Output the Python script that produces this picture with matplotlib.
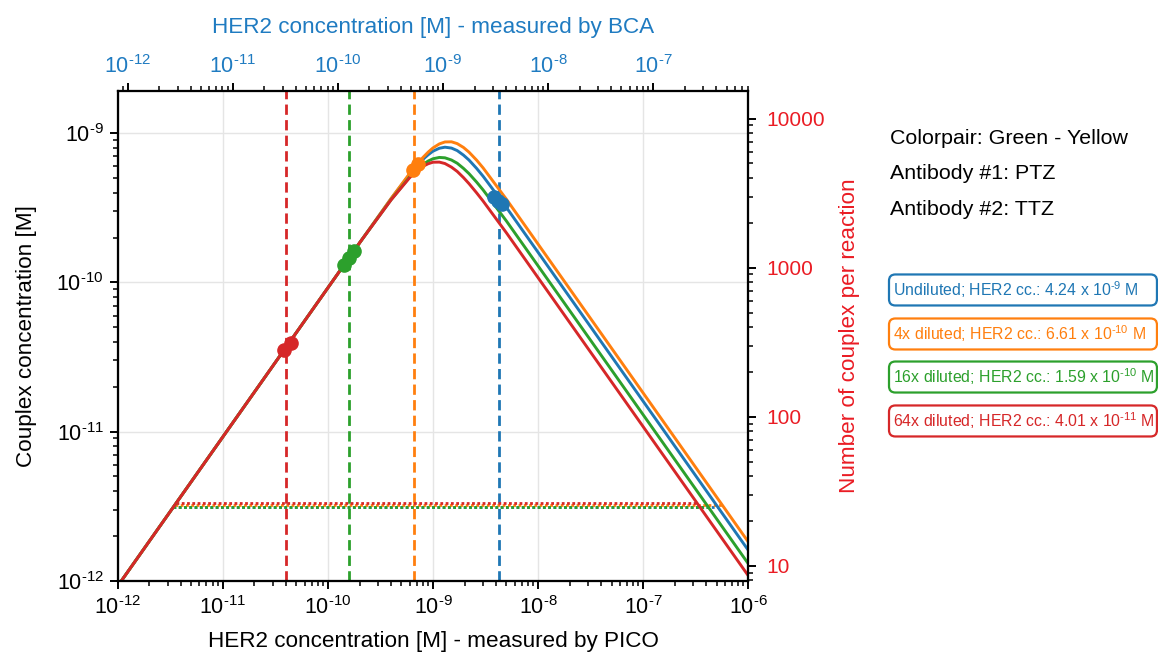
import numpy as np
import matplotlib
matplotlib.use("Agg")
import matplotlib.pyplot as plt
from matplotlib.ticker import LogLocator, NullFormatter, FuncFormatter, FixedLocator
from matplotlib.patches import FancyBboxPatch

plt.rcParams['font.family'] = ['Liberation Sans', 'DejaVu Sans']
plt.rcParams['mathtext.fontset'] = 'custom'
plt.rcParams['mathtext.rm'] = 'Liberation Sans'
plt.rcParams['mathtext.it'] = 'Liberation Sans:italic'
plt.rcParams['mathtext.bf'] = 'Liberation Sans:bold'
plt.rcParams['mathtext.default'] = 'regular'

# --- data ---
series_names = ["Undiluted", "4x diluted", "16x diluted", "64x diluted"]
her2_pico = [4.24e-9, 6.61e-10, 1.59e-10, 4.01e-11]
her2_labels = ["4.24 x 10$^{\u20109}$", "6.61 x 10$^{\u201010}$",
               "1.59 x 10$^{\u201010}$", "4.01 x 10$^{\u201011}$"]

# model curves: couplex concentration vs HER2 concentration
x_model = [1e-12, 2e-10, 4e-10, 6e-10, 7e-10, 8e-10, 9e-10, 1e-9, 1.15e-9, 1.3e-9,
           1.5e-9, 1.7e-9, 1.95e-9, 2.2e-9, 2.6e-9, 3e-9, 5e-9, 1e-6]
y_undiluted = [0.92e-12, 1.84e-10, 3.65e-10, 5.31e-10, 6.04e-10, 6.67e-10, 7.18e-10, 7.59e-10, 7.94e-10,
               8.07e-10, 7.96e-10, 7.66e-10, 7.14e-10, 6.62e-10, 5.82e-10, 5.15e-10, 3.18e-10, 1.60e-12]
y_4x = [0.92e-12, 1.84e-10, 3.66e-10, 5.38e-10, 6.17e-10, 6.87e-10, 7.48e-10, 7.98e-10, 8.49e-10,
        8.75e-10, 8.77e-10, 8.53e-10, 8.04e-10, 7.48e-10, 6.61e-10, 5.86e-10, 3.61e-10, 1.82e-12]
y_16x = [0.92e-12, 1.84e-10, 3.59e-10, 5.09e-10, 5.69e-10, 6.17e-10, 6.52e-10, 6.75e-10, 6.89e-10,
         6.85e-10, 6.62e-10, 6.30e-10, 5.82e-10, 5.37e-10, 4.71e-10, 4.17e-10, 2.58e-10, 1.30e-12]
y_64x = [0.92e-12, 1.84e-10, 3.58e-10, 5.04e-10, 5.58e-10, 6.00e-10, 6.25e-10, 6.40e-10, 6.41e-10,
         6.27e-10, 5.93e-10, 5.55e-10, 5.05e-10, 4.60e-10, 3.99e-10, 3.51e-10, 2.15e-10, 1.08e-12]

# measured replicates
pts_x_undiluted = [3.81e-9, 4.16e-9, 4.54e-9]
pts_y_undiluted = [3.74e-10, 3.51e-10, 3.35e-10]
pts_x_4x = [6.45e-10, 7.2e-10]
pts_y_4x = [5.7e-10, 6.26e-10]
pts_x_16x = [1.42e-10, 1.585e-10, 1.77e-10]
pts_y_16x = [1.315e-10, 1.468e-10, 1.637e-10]
pts_x_64x = [3.81e-11, 4.44e-11]
pts_y_64x = [3.5e-11, 3.93e-11]

# detection threshold (dotted)
thr_y = [3.12e-12, 3.22e-12, 3.12e-12, 3.32e-12]
thr_x_start = [3.39e-12, 3.5e-12, 3.39e-12, 3.6e-12]
thr_x_end = [5.13e-7, 5.65e-7, 4.17e-7, 3.25e-7]

# tick values
x_ticks = [1e-12, 1e-11, 1e-10, 1e-9, 1e-8, 1e-7, 1e-6]
top_ticks = [1e-12, 1e-11, 1e-10, 1e-9, 1e-8, 1e-7]
y_ticks = [1e-12, 1e-11, 1e-10, 1e-9]
right_ticks = [10, 100, 1000, 10000]

couplex_per_molar = 7.96e12   # right axis conversion
bca_per_pico = 0.805          # top axis conversion

colors = ['#1f77b4', '#ff7f0e', '#2ca02c', '#d62728']
right_col = '#ea1c24'
top_col = '#1f7bc1'

curves = [y_undiluted, y_4x, y_16x, y_64x]
pts_x = [pts_x_undiluted, pts_x_4x, pts_x_16x, pts_x_64x]
pts_y = [pts_y_undiluted, pts_y_4x, pts_y_16x, pts_y_64x]


def pow10_label(v, pos):
    e = int(round(np.log10(v)))
    if e < 0:
        return '10$^{\u2010%d}$' % (-e)
    return '10$^{%d}$' % e


fig = plt.figure(figsize=(11.58, 6.55), dpi=100)
ax = fig.add_axes([0.1016, 0.1134, 0.5446, 0.7481])

ylim = (1e-12, 1.93e-9)
xlim = (1e-12, 1e-6)

for i in range(4):
    ax.plot(x_model, curves[i], color=colors[i], lw=2.1, zorder=3)
for i in range(4):
    ax.plot(pts_x[i], pts_y[i], 'o', ms=9.5, color=colors[i], zorder=4)
for i in range(4):
    ax.axvline(her2_pico[i], color=colors[i], lw=2, dashes=(3.7, 1.9), zorder=2)
for i in range(4):
    ax.plot([thr_x_start[i], thr_x_end[i]], [thr_y[i], thr_y[i]], color=colors[i],
            lw=2, dashes=(1, 0.9), zorder=2)

ax.set_xscale('log')
ax.set_yscale('log')
ax.set_xlim(*xlim)
ax.set_ylim(*ylim)
ax.grid(True, which='major', color='#e5e5e5', lw=1)
ax.set_axisbelow(True)


def style_axis(a):
    for s in a.spines.values():
        s.set_linewidth(1.5)
    a.tick_params(which='major', direction='out', length=6, width=1.4, labelsize=15.5)
    a.tick_params(which='minor', direction='out', length=3.5, width=1.1)


minor_loc = lambda: LogLocator(base=10, subs=np.arange(2, 10), numticks=100)

style_axis(ax)
ax.xaxis.set_major_locator(FixedLocator(x_ticks))
ax.xaxis.set_minor_locator(minor_loc())
ax.yaxis.set_major_locator(FixedLocator(y_ticks))
ax.yaxis.set_minor_locator(minor_loc())
ax.xaxis.set_major_formatter(FuncFormatter(pow10_label))
ax.yaxis.set_major_formatter(FuncFormatter(pow10_label))
ax.xaxis.set_minor_formatter(NullFormatter())
ax.yaxis.set_minor_formatter(NullFormatter())
ax.tick_params(axis='x', pad=5)
ax.tick_params(axis='y', pad=4)
ax.set_xlabel('HER2 concentration [M] - measured by PICO', fontsize=16.2, labelpad=9)
ax.set_ylabel('Couplex concentration [M]', fontsize=16.2, labelpad=14)

# right axis: number of couplex per reaction
ax2 = ax.twinx()
ax2.set_yscale('log')
ax2.set_ylim(ylim[0] * couplex_per_molar, ylim[1] * couplex_per_molar)
style_axis(ax2)
ax2.yaxis.set_major_locator(FixedLocator(right_ticks))
ax2.yaxis.set_minor_locator(minor_loc())
ax2.yaxis.set_major_formatter(FuncFormatter(lambda v, p: f'{v:g}'))
ax2.yaxis.set_minor_formatter(NullFormatter())
ax2.tick_params(axis='y', labelcolor=right_col, pad=7, labelsize=15)
ax2.set_ylabel('Number of couplex per reaction', color=right_col, fontsize=16.2, labelpad=10)

# top axis: BCA concentration
ax3 = ax.twiny()
ax3.set_xscale('log')
ax3.set_xlim(xlim[0] * bca_per_pico, xlim[1] * bca_per_pico)
style_axis(ax3)
ax3.xaxis.set_major_locator(FixedLocator(top_ticks))
ax3.xaxis.set_minor_locator(minor_loc())
ax3.xaxis.set_major_formatter(FuncFormatter(pow10_label))
ax3.xaxis.set_minor_formatter(NullFormatter())
ax3.tick_params(axis='x', labelcolor=top_col, pad=3)
ax3.set_xlabel('HER2 concentration [M] - measured by BCA', color=top_col, fontsize=16.2, labelpad=16)

# info text
fig.text(0.7686, 0.7878, 'Colorpair: Green - Yellow', fontsize=15.4, va='center')
fig.text(0.7686, 0.7344, 'Antibody #1: PTZ', fontsize=15.4, va='center')
fig.text(0.7686, 0.6809, 'Antibody #2: TTZ', fontsize=15.4, va='center')

# legend-like boxes
box_y = [0.5573, 0.4901, 0.4244, 0.3573]
box_h = 31 / 655
for i in range(4):
    p = FancyBboxPatch((0.7677, box_y[i] - box_h / 2), 0.2314, box_h,
                       boxstyle='round,pad=0,rounding_size=0.0055',
                       mutation_aspect=1158 / 655, transform=fig.transFigure,
                       fc='white', ec=colors[i], lw=1.6)
    fig.add_artist(p)
    fig.text(0.7715, box_y[i], f'{series_names[i]}; HER2 cc.: {her2_labels[i]} M',
             color=colors[i], fontsize=11.4, va='center')

fig.savefig('out.png', dpi=100)
